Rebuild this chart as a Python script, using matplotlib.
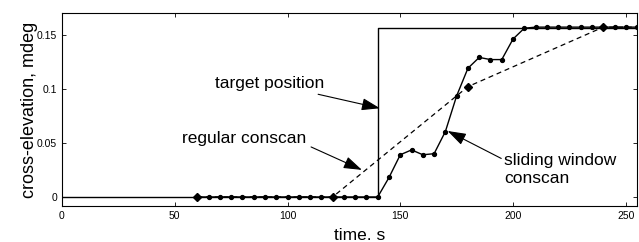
import matplotlib
matplotlib.use("Agg")
import matplotlib.pyplot as plt

# target position (step)
target_t = [0, 140, 140, 255]
target_y = [0.0, 0.0, 0.1565, 0.1565]

# regular conscan, updated every 60 s
regular_t = [60, 120, 180, 240, 255]
regular_y = [0.0, 0.0, 0.102, 0.157, 0.157]
regular_mark_t = [60, 120, 180, 240]
regular_mark_y = [0.0, 0.0, 0.102, 0.157]

# sliding window conscan, every 5 s
sliding_t = [60, 65, 70, 75, 80, 85, 90, 95, 100, 105, 110, 115, 120, 125, 130,
             135, 140, 145, 150, 155, 160, 165, 170, 175, 180, 185, 190, 195,
             200, 205, 210, 215, 220, 225, 230, 235, 240, 245, 250, 255]
sliding_y = [0.0, 0.0, 0.0, 0.0, 0.0, 0.0, 0.0, 0.0, 0.0, 0.0, 0.0, 0.0, 0.0,
             0.0, 0.0, 0.0, 0.0, 0.018, 0.039, 0.0435, 0.039, 0.040, 0.0605,
             0.0935, 0.119, 0.129, 0.127, 0.127, 0.146, 0.156, 0.157, 0.157,
             0.157, 0.157, 0.157, 0.157, 0.157, 0.157, 0.157, 0.157]

x_ticks = [0, 50, 100, 150, 200, 250]
y_ticks = [0, 0.05, 0.1, 0.15]
y_ticklabels = ["0", "0.05", "0.1", "0.15"]

plt.rcParams["font.family"] = ["Liberation Sans", "DejaVu Sans"]

fig = plt.figure(figsize=(6.39, 2.42), dpi=100)
ax = fig.add_axes([0.097, 0.149, 0.900, 0.797])

ax.plot(target_t, target_y, color="black", lw=1.0)
ax.plot(regular_t, regular_y, color="black", lw=0.9, ls=(0, (4, 3)))
ax.plot(regular_mark_t, regular_mark_y, ls="none", marker="D",
        color="black", ms=4.5)
ax.plot(sliding_t, sliding_y, color="black", lw=1.0, marker="o", ms=2.8)

arrow = dict(arrowstyle="-|>,head_length=0.9,head_width=0.3",
             color="black", lw=0.8, shrinkA=2, shrinkB=0)
ax.annotate("target position", xy=(141, 0.082), xytext=(68, 0.105),
            fontsize=12.5, va="center", ha="left", arrowprops=arrow)
ax.annotate("regular conscan", xy=(133, 0.025), xytext=(53, 0.054),
            fontsize=12.5, va="center", ha="left",
            arrowprops=dict(arrow, relpos=(1.0, 0.1)))
ax.annotate("sliding window\nconscan", xy=(171, 0.061), xytext=(196, 0.041),
            fontsize=12.5, va="top", ha="left", linespacing=1.25,
            arrowprops=dict(arrow, relpos=(0.0, 0.78), shrinkA=0))

ax.set_xlim(0, 255)
ax.set_ylim(-0.0083, 0.170)
ax.set_xticks(x_ticks)
ax.set_yticks(y_ticks)
ax.set_yticklabels(y_ticklabels)
ax.tick_params(direction="in", top=True, right=True, labelsize=7.5,
               length=3, width=0.6)
for s in ax.spines.values():
    s.set_linewidth(0.8)

ax.set_xlabel("time. s", fontsize=12.5)
ax.xaxis.set_label_coords(0.517, -0.115)
ax.set_ylabel("cross-elevation, mdeg", fontsize=13, labelpad=-1)

fig.savefig("out.png", dpi=100)
